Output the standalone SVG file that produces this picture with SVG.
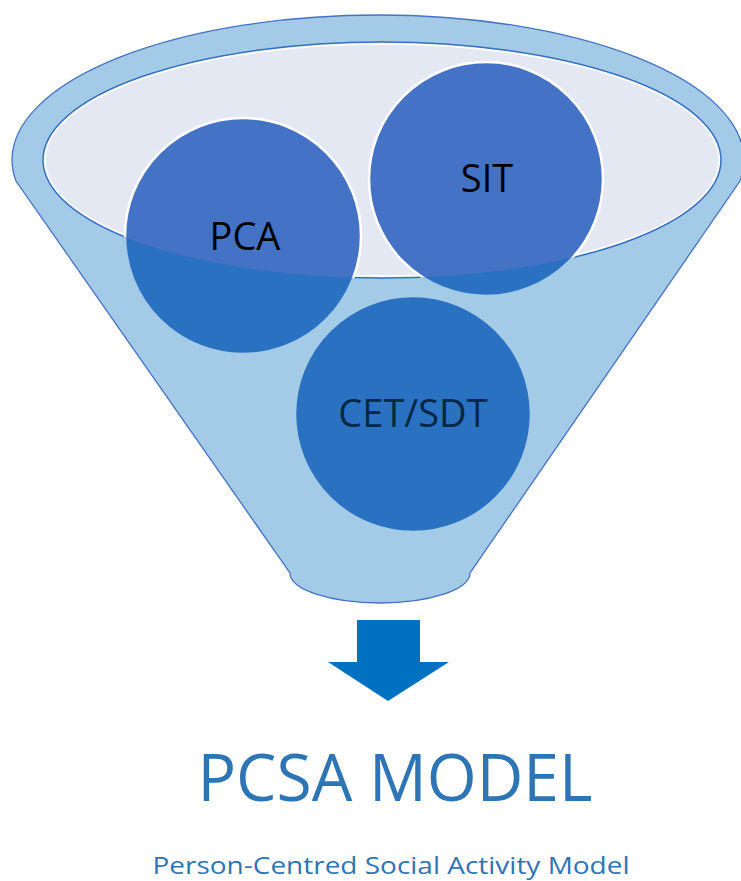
<svg xmlns="http://www.w3.org/2000/svg" width="741" height="881" viewBox="0 0 741 881">
<style>
.circ{fill:#4472C4;stroke:#FFFFFF;stroke-width:2.5}
.lbl{font-family:"Open Sans","Liberation Sans",sans-serif;font-size:38px;fill:#000000;text-anchor:middle}
.ttl{font-family:"Open Sans","Liberation Sans",sans-serif;fill:#2E75B6;text-anchor:middle}
</style>
<rect width="741" height="881" fill="#FFFFFF"/>
<g id="funnel-inner">
<ellipse cx="382" cy="160" rx="339" ry="118" fill="#E4E8F3" stroke="#4472C4" stroke-width="1.5"/>
<ellipse cx="382" cy="160" rx="337" ry="116" fill="none" stroke="#FFFFFF" stroke-width="1.5"/>
</g>
<g id="node-pca">
<circle class="circ" cx="243" cy="236" r="118"/>
<text class="lbl" x="245" y="250">PCA</text>
</g>
<g id="node-sit">
<circle class="circ" cx="486" cy="179" r="117"/>
<text class="lbl" x="487" y="192">SIT</text>
</g>
<g id="node-cet">
<circle class="circ" cx="413" cy="414" r="118"/>
<text class="lbl" x="413" y="427">CET/SDT</text>
</g>
<g id="funnel-front">
<path d="M12 160 A366 145 0 0 1 744 160 A366 145 0 0 1 740 181 L470 573 A90 30 0 0 1 290 573 L16 181 A366 145 0 0 1 12 160 Z M43 160 A339 118 0 0 0 721 160 A339 118 0 0 0 43 160 Z" fill="#0070C0" fill-opacity="0.36" fill-rule="evenodd"/>
<path d="M12 160 A366 145 0 0 1 744 160 A366 145 0 0 1 740 181 L470 573 A90 30 0 0 1 290 573 L16 181 A366 145 0 0 1 12 160 Z" fill="none" stroke="#4472C4" stroke-width="1.3"/>
</g>
<g id="connectors">
<path d="M357 620 L420 620 L420 662 L449 662 L388 701 L328 662 L357 662 Z" fill="#0070C0"/>
</g>
<g id="title">
<text class="ttl" x="395" y="801" font-size="66" textLength="395" lengthAdjust="spacingAndGlyphs">PCSA MODEL</text>
<text class="ttl" x="391" y="874" font-size="24" textLength="477" lengthAdjust="spacingAndGlyphs">Person-Centred Social Activity Model</text>
</g>
</svg>
